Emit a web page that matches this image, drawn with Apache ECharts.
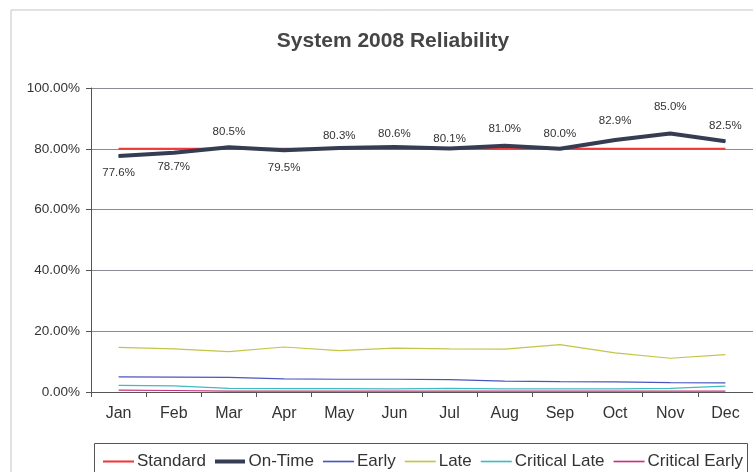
<!DOCTYPE html>
<html>
<head>
<meta charset="utf-8">
<style>
  html, body { margin: 0; padding: 0; background: #fff; }
  #chart { width: 753px; height: 472px; }
</style>
<script src="https://cdn.jsdelivr.net/npm/echarts@6/dist/echarts.min.js"></script>
</head>
<body>
<div id="chart"></div>
<script>
  const months = ['Jan', 'Feb', 'Mar', 'Apr', 'May', 'Jun', 'Jul', 'Aug', 'Sep', 'Oct', 'Nov', 'Dec']
  const standard = [80, 80, 80, 80, 80, 80, 80, 80, 80, 80, 80, 80]
  const onTime = [77.6, 78.7, 80.5, 79.5, 80.3, 80.6, 80.1, 81.0, 80.0, 82.9, 85.0, 82.5]
  const early = [5.0, 4.9, 4.8, 4.3, 4.2, 4.2, 4.1, 3.6, 3.4, 3.3, 3.1, 3.0]
  const late = [14.7, 14.2, 13.3, 14.8, 13.6, 14.4, 14.2, 14.1, 15.6, 12.9, 11.1, 12.3]
  const criticalLate = [2.2, 2.0, 1.2, 1.1, 1.1, 1.0, 1.2, 1.0, 1.0, 1.0, 1.2, 1.9]
  const criticalEarly = [0.6, 0.5, 0.3, 0.3, 0.3, 0.3, 0.3, 0.3, 0.3, 0.3, 0.3, 0.3]
  // which side of the line each On-Time label sits on
  const labelSide = ['bottom', 'bottom', 'top', 'bottom', 'top', 'top', 'top', 'top', 'top', 'top', 'top', 'top']
  const labelGap = [10, 8, 9, 11, 6, 7, 3, 10, 8, 13, 20, 9]

  const font = 'Liberation Sans, Arial, sans-serif'
  const chart = echarts.init(document.getElementById('chart'))

  function legendItem(name, color, h) {
    return {
      name: name,
      icon: 'path://M0,0 H30 V' + h + ' H0 Z',
      itemStyle: { color: color, borderWidth: 0 }
    }
  }

  chart.setOption({
    backgroundColor: '#fff',
    animation: false,
    textStyle: { fontFamily: font },
    title: {
      text: 'System 2008 Reliability',
      left: 388,
      top: 26,
      textAlign: 'center',
      textStyle: { fontSize: 21, fontWeight: 'bold', color: '#454545', fontFamily: font }
    },
    graphic: [
      {
        type: 'rect',
        shape: { x: 11, y: 10, width: 760, height: 480 },
        style: { fill: 'none', stroke: '#c4c4c4', lineWidth: 1 },
        silent: true
      },
      {
        type: 'rect',
        shape: { x: 94.5, y: 443.5, width: 653, height: 40 },
        style: { fill: 'none', stroke: '#555', lineWidth: 1 },
        silent: true
      }
    ],
    legend: {
      left: 98,
      top: 448,
      itemWidth: 31,
      itemHeight: 4,
      itemGap: 9,
      textStyle: { fontSize: 17, color: '#333', fontFamily: font, padding: [0, 0, 0, -2] },
      data: [
        legendItem('Standard', '#f03a3a', 2),
        legendItem('On-Time', '#363c52', 4),
        legendItem('Early', '#4a56c0', 1.6),
        legendItem('Late', '#c4c448', 1.6),
        legendItem('Critical Late', '#3fbcc0', 1.6),
        legendItem('Critical Early', '#c8327a', 1.6)
      ]
    },
    grid: { left: 91, right: -3, top: 88, bottom: 80 },
    xAxis: {
      type: 'category',
      data: months,
      boundaryGap: true,
      axisLine: { lineStyle: { color: '#555' } },
      axisTick: { show: true, length: 5, inside: false, lineStyle: { color: '#555' } },
      axisLabel: { fontSize: 16, color: '#333', margin: 14 }
    },
    yAxis: {
      type: 'value',
      min: 0,
      max: 100,
      interval: 20,
      axisLine: { show: true, lineStyle: { color: '#555' } },
      axisTick: { show: true, length: 5, lineStyle: { color: '#555' } },
      axisLabel: { fontSize: 13.5, color: '#333', margin: 11, formatter: v => v.toFixed(2) + '%' },
      splitLine: { lineStyle: { color: '#8a8a98', width: 1 } }
    },
    series: [
      {
        name: 'Standard', type: 'line', data: standard, symbol: 'none',
        lineStyle: { color: '#f03a3a', width: 2 }, itemStyle: { color: '#f03a3a' }, z: 3
      },
      {
        name: 'On-Time', type: 'line', symbol: 'circle', symbolSize: 1,
        data: onTime.map((v, i) => ({
          value: v,
          label: { position: labelSide[i], distance: labelGap[i] }
        })),
        lineStyle: { color: '#363c52', width: 4 }, itemStyle: { color: '#363c52' },
        label: { show: true, fontSize: 11.5, color: '#333', formatter: p => p.value.toFixed(1) + '%' },
        z: 4
      },
      {
        name: 'Early', type: 'line', data: early, symbol: 'none',
        lineStyle: { color: '#4a56c0', width: 1.2 }, itemStyle: { color: '#4a56c0' }
      },
      {
        name: 'Late', type: 'line', data: late, symbol: 'none',
        lineStyle: { color: '#c4c448', width: 1.2 }, itemStyle: { color: '#c4c448' }
      },
      {
        name: 'Critical Late', type: 'line', data: criticalLate, symbol: 'none',
        lineStyle: { color: '#3fbcc0', width: 1.2 }, itemStyle: { color: '#3fbcc0' }
      },
      {
        name: 'Critical Early', type: 'line', data: criticalEarly, symbol: 'none',
        lineStyle: { color: '#c8327a', width: 1.2 }, itemStyle: { color: '#c8327a' }
      }
    ]
  })
</script>
</body>
</html>
